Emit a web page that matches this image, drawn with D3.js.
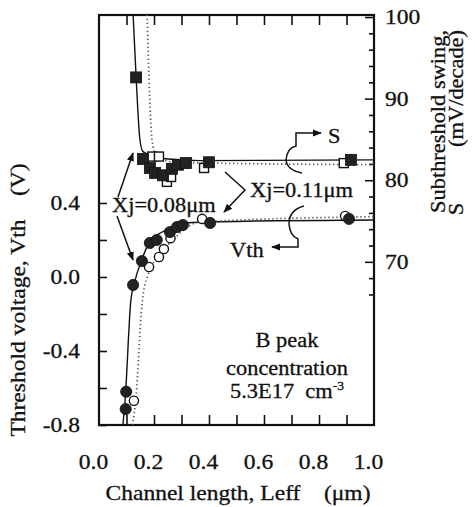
<!DOCTYPE html>
<html>
<head>
<meta charset="utf-8">
<script src="https://cdn.jsdelivr.net/npm/d3@7"></script>
<style>
  body { margin: 0; background: #fff; }
</style>
</head>
<body>
<svg id="chart" width="475" height="507"></svg>
<script>
// channel length (um) vs subthreshold swing S (mV/decade) and threshold voltage Vth (V)
const fillSqL = [0.135, 0.16, 0.185, 0.204, 0.233, 0.265, 0.287, 0.316, 0.40, 0.916];
const fillSqS = [92.6, 82.6, 81.5, 80.9, 80.6, 81.4, 81.9, 82.1, 82.2, 82.5];
const openSqL = [0.193, 0.218, 0.247, 0.262, 0.382, 0.89];
const openSqS = [82.9, 82.9, 79.8, 80.4, 81.5, 82.1];
const fillCirL = [0.097, 0.099, 0.124, 0.156, 0.185, 0.21, 0.258, 0.284, 0.305, 0.404, 0.909];
const fillCirV = [-0.714, -0.62, -0.043, 0.086, 0.184, 0.20, 0.243, 0.27, 0.281, 0.292, 0.314];
const openCirL = [0.127, 0.182, 0.218, 0.236, 0.26, 0.375, 0.895];
const openCirV = [-0.669, 0.054, 0.108, 0.151, 0.21, 0.314, 0.33];

// fitted curves (solid: Xj=0.08um, dotted: Xj=0.11um)
const solidSL = [0.124, 0.135, 0.149, 0.16, 0.222, 0.367, 1.0];
const solidSV = [100.3, 92.6, 84.9, 83.5, 82.7, 82.4, 82.5];
const dotSL = [0.175, 0.182, 0.193, 0.207, 0.276, 1.0];
const dotSV = [100.3, 92.3, 84.9, 83.1, 82.2, 81.9];
const solidVL = [0.087, 0.095, 0.116, 0.127, 0.155, 0.185, 0.264, 0.313, 0.385, 1.0];
const solidVV = [-0.8, -0.665, -0.124, -0.043, 0.092, 0.189, 0.265, 0.292, 0.297, 0.308];
const dotVL = [0.122, 0.135, 0.156, 0.178, 0.222, 0.276, 0.367, 1.0];
const dotVV = [-0.8, -0.64, -0.151, 0.011, 0.119, 0.211, 0.297, 0.326];

const xTicks = [0.1, 0.2, 0.3, 0.4, 0.5, 0.6, 0.7, 0.8, 0.9];
const xLabels = [0, 0.2, 0.4, 0.6, 0.8, 1.0];
const vTicks = [-0.8, -0.6, -0.4, -0.2, 0, 0.2, 0.4];
const vLabels = [-0.8, -0.4, 0, 0.4];
const sMinor = [66, 68, 72, 74, 76, 78, 82, 84, 86, 88, 92, 94, 96, 98];
const sMajor = [70, 80, 90, 100];

const FONT = '"Liberation Serif", "DejaVu Serif", serif';
const L = 99, R = 374, T = 15, B = 425;
const x = d3.scaleLinear([0, 1], [L, R]);
const yV = d3.scaleLinear([-0.8, 1.416], [B, T]);
const yS = d3.scaleLinear([50, 100.25], [B, T]);

const svg = d3.select('#chart').attr('font-family', FONT);
const defs = svg.append('defs');
defs.append('clipPath').attr('id', 'plot')
  .append('rect').attr('x', L).attr('y', T).attr('width', R - L).attr('height', B - T);
defs.append('marker').attr('id', 'arr')
  .attr('viewBox', '0 0 10 10').attr('refX', 9).attr('refY', 5)
  .attr('markerWidth', 9).attr('markerHeight', 9).attr('markerUnits', 'userSpaceOnUse')
  .attr('orient', 'auto')
  .append('path').attr('d', 'M0,1 L10,5 L0,9 Z').attr('fill', '#111');

const noLabel = a => a.tickFormat('').tickSizeOuter(0);

// x ticks, top and bottom, pointing inward
svg.append('g').attr('transform', `translate(0,${B})`)
  .call(noLabel(d3.axisBottom(x).tickValues(xTicks).tickSizeInner(-10)));
svg.append('g').attr('transform', `translate(0,${T})`)
  .call(noLabel(d3.axisTop(x).tickValues(xTicks).tickSizeInner(-10)));
svg.append('g').attr('class', 'lab').attr('transform', `translate(0,${B})`)
  .call(d3.axisBottom(x).tickValues(xLabels).tickSize(0).tickPadding(29).tickFormat(d => d.toFixed(1)))
  .selectAll('text').attr('dx', -6);

// left Vth axis
svg.append('g').attr('class', 'lab').attr('transform', `translate(${L},0)`)
  .call(d3.axisLeft(yV).tickValues(vTicks).tickSizeInner(-8).tickSizeOuter(0).tickPadding(19)
    .tickFormat(d => vLabels.includes(d) ? d.toFixed(1) : ''));

// right S axis
svg.append('g').attr('transform', `translate(${R},0)`)
  .call(noLabel(d3.axisRight(yS).tickValues(sMinor).tickSizeInner(-5)));
svg.append('g').attr('class', 'lab').attr('transform', `translate(${R},0)`)
  .call(d3.axisRight(yS).tickValues(sMajor).tickSizeInner(-9).tickSizeOuter(0).tickPadding(11));

svg.selectAll('.domain').remove();
svg.selectAll('g').attr('font-family', FONT);
svg.selectAll('.tick line').attr('stroke', '#111').attr('stroke-width', 1.6);
svg.selectAll('.lab text').attr('font-size', 21).attr('fill', '#111');

// frame
svg.append('rect').attr('x', L).attr('y', T).attr('width', R - L).attr('height', B - T)
  .attr('fill', 'none').attr('stroke', '#111').attr('stroke-width', 2.2);

// curves
const plot = svg.append('g').attr('clip-path', 'url(#plot)');
const curve = (xs, ys, ysc, dotted) => plot.append('path')
  .datum(xs.map((d, i) => [d, ys[i]]))
  .attr('fill', 'none')
  .attr('stroke', dotted ? '#555' : '#111')
  .attr('stroke-width', dotted ? 1.7 : 1.4)
  .attr('stroke-dasharray', dotted ? '1.3,2.7' : null)
  .attr('d', d3.line().x(d => x(d[0])).y(d => ysc(d[1])).curve(d3.curveMonotoneX));
curve(solidSL, solidSV, yS, false);
curve(dotSL, dotSV, yS, true);
curve(solidVL, solidVV, yV, false);
curve(dotVL, dotVV, yV, true);

// markers
const squares = (xs, ys, filled) => {
  const s = filled ? 11 : 9;
  plot.append('g').selectAll('rect').data(xs.map((d, i) => [d, ys[i]])).join('rect')
    .attr('x', d => x(d[0]) - s / 2).attr('y', d => yS(d[1]) - s / 2)
    .attr('width', s).attr('height', s)
    .attr('fill', filled ? '#222' : '#fff').attr('stroke', '#111').attr('stroke-width', filled ? 0.8 : 1.4);
};
const circles = (xs, ys, filled) => {
  plot.append('g').selectAll('circle').data(xs.map((d, i) => [d, ys[i]])).join('circle')
    .attr('cx', d => x(d[0])).attr('cy', d => yV(d[1])).attr('r', filled ? 5.6 : 4.6)
    .attr('fill', filled ? '#222' : '#fff').attr('stroke', '#111').attr('stroke-width', filled ? 0.8 : 1.4);
};
squares(openSqL, openSqS, false);
squares(fillSqL, fillSqS, true);
circles(openCirL, openCirV, false);
circles(fillCirL, fillCirV, true);

// annotations
const ann = svg.append('g').attr('fill', 'none').attr('stroke', '#111').attr('stroke-width', 1.5);
ann.append('path').attr('d', 'M118,197 L133,153').attr('marker-end', 'url(#arr)');
ann.append('path').attr('d', 'M117,216 L133,260').attr('marker-end', 'url(#arr)');
ann.append('path').attr('d', 'M225,172 L245,190 L224,212').attr('marker-end', 'url(#arr)');
ann.append('path').attr('d', 'M302,173 Q287,170 286,160 Q287,148 296,146 L296,133 L321,133').attr('marker-end', 'url(#arr)');
ann.append('path').attr('d', 'M304,206 Q289,210 289,224 Q290,236 298,239 L298,247 L272,247').attr('marker-end', 'url(#arr)');

const txt = (t, px, py, anchor, size) => svg.append('text')
  .attr('x', px).attr('y', py).attr('text-anchor', anchor || 'start')
  .attr('font-size', size || 20).attr('fill', '#111').style('white-space', 'pre').text(t);
txt('Xj=0.08\u03bcm', 112, 212);
txt('Xj=0.11\u03bcm', 250, 197);
txt('S', 328, 143);
txt('Vth', 230, 257);
txt('B peak', 287, 347, 'middle');
txt('concentration', 287, 375, 'middle');
const conc = txt('5.3E17  cm', 287, 398, 'middle');
conc.append('tspan').attr('font-size', 12).attr('dy', -8).text('-3');

// axis titles
txt('Channel length, Leff    (\u03bcm)', 238, 500, 'middle', 21);
const vtitle = (t, tx, ty, anchor, size) => svg.append('text')
  .attr('transform', `translate(${tx},${ty}) rotate(-90)`)
  .attr('text-anchor', anchor).attr('font-size', size).attr('fill', '#111')
  .style('white-space', 'pre').text(t);
vtitle('Threshold voltage, Vth    (V)', 25, 300, 'middle', 21);
vtitle('Subthreshold swing,', 445, 30, 'end', 20);
vtitle('(mV/decade)', 463, 30, 'end', 20);
vtitle('S', 463, 209, 'middle', 20);

// the scanned type is a little wider and heavier than Times
svg.selectAll('text').each(function () {
  const w = this.getComputedTextLength();
  if (w > 0) d3.select(this).attr('textLength', w * 1.12).attr('lengthAdjust', 'spacingAndGlyphs');
}).attr('stroke', '#111').attr('stroke-width', 0.3);
</script>
</body>
</html>
